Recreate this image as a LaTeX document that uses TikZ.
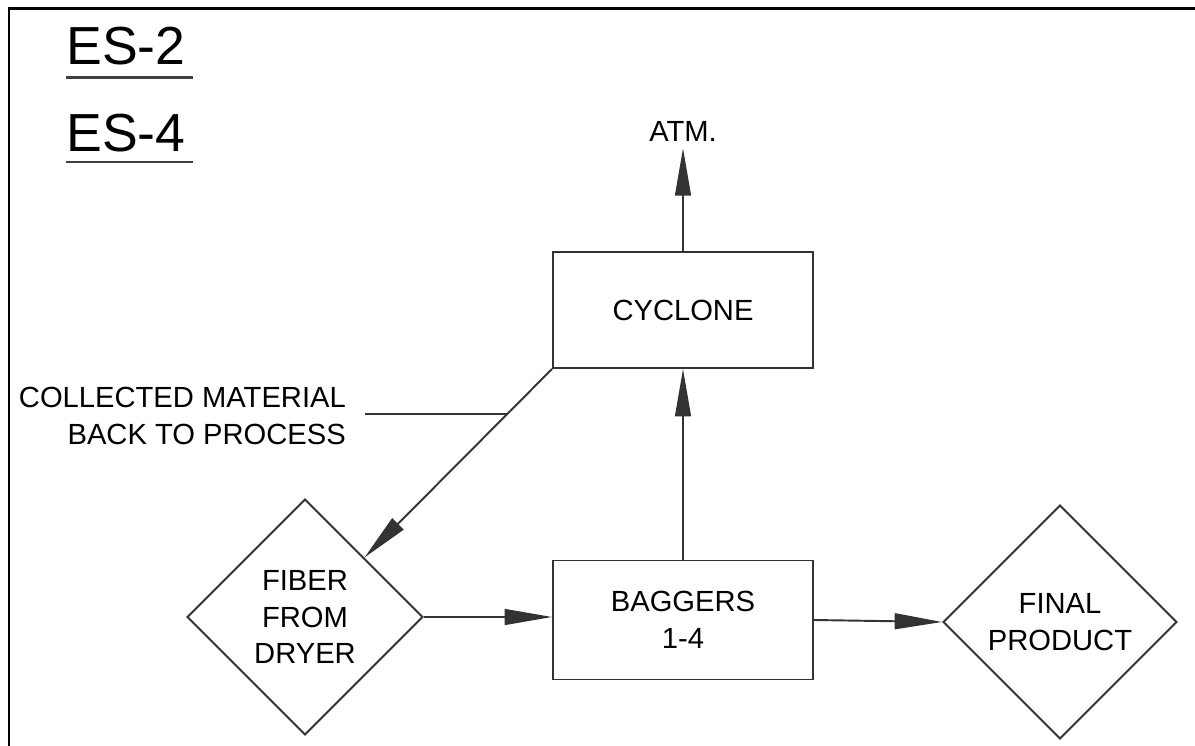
\documentclass[tikz,border=0pt]{standalone}
\usepackage{fontspec}
\setmainfont{Liberation Sans}
\usetikzlibrary{arrows.meta,shapes.geometric}

\begin{document}
\begin{tikzpicture}[x=0.02cm,y=0.02cm,
  every node/.style={font=\fontsize{16.6}{21}\selectfont,text=black},
  unit/.style={draw=black!80,line width=1.1pt,minimum width=5.2cm,align=center},
  endpoint/.style={diamond,draw=black!80,line width=1.1pt,inner sep=0pt,
    align=center,minimum width=4.72cm,minimum height=4.72cm},
  flow/.style={draw=black!80,line width=1.1pt,
    -{Triangle[length=27pt,width=9pt]}},
  tag/.style={font=\fontsize{30.5}{36}\selectfont,anchor=base west,inner sep=0pt},
  tagline/.style={black!75,line width=1.3pt}]

  \useasboundingbox (0,0) rectangle (1195,746);
  % sheet frame, cut off by the page on the right and at the bottom
  \draw[line width=1.7pt] (9,0) -- (9,737) -- (1195,737);

  % emission source tags
  \node[tag] (es2) at (66,681) {ES-2};
  \draw[tagline] ([yshift=-0.25cm]es2.base west) -- ++(127,0);
  \node[tag] (es4) at (66,594) {ES-4};
  \draw[tagline] ([yshift=-0.2cm]es4.base west) -- ++(127,0);

  % process units
  \node[unit,minimum height=2.32cm] (cyclone) at (683,436) {CYCLONE};
  \node[unit,minimum height=2.38cm] (baggers) at (683,126) {BAGGERS\\1-4};
  \node[endpoint] (fiber) at (305,129) {FIBER\\FROM\\DRYER};
  \node[endpoint,minimum width=4.68cm,minimum height=4.68cm] (final)
    at (1060,124) {FINAL\\PRODUCT};
  \node[anchor=base] (atm) at (683,604) {ATM.};
  \node[anchor=east,align=right] (collected) at (352,330)
    {COLLECTED MATERIAL\\BACK TO PROCESS};

  % material and air flows
  \draw[flow] (cyclone.north) -- (atm.south);
  \draw[flow] (baggers.north) -- (cyclone.south);
  \draw[flow] (fiber.east) -- (fiber.east -| baggers.west);
  \draw[flow] (baggers.east) -- (final.west);
  \draw[flow] (cyclone.south west) -- coordinate[pos=0.24] (tap) (fiber.north east);
  % leader from the return-line label
  \draw[draw=black!80,line width=1.1pt] ([xshift=0.26cm]collected.east |- tap) -- (tap);
\end{tikzpicture}
\end{document}
